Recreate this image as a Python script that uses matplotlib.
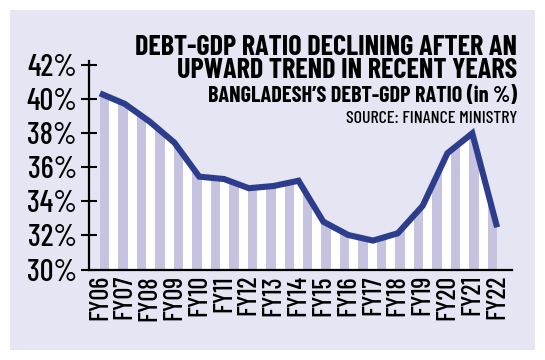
import numpy as np
import matplotlib
matplotlib.use("Agg")
import matplotlib.pyplot as plt
from matplotlib.patches import Polygon, Rectangle

years = ["FY06", "FY07", "FY08", "FY09", "FY10", "FY11", "FY12", "FY13", "FY14",
         "FY15", "FY16", "FY17", "FY18", "FY19", "FY20", "FY21", "FY22"]
ratio = [40.36, 39.74, 38.7, 37.46, 35.46, 35.32, 34.78, 34.91, 35.22,
         32.81, 32.03, 31.7, 32.13, 33.74, 36.84, 38.01, 32.48]
yticks = [30, 32, 34, 36, 38, 40, 42]
ytick_labels = ["30%", "32%", "34%", "36%", "38%", "40%", "42%"]

panel_col = "#e6e5f3"
stripe_col = "#c6c3e1"
line_col = "#2b3d8c"
narrow = ["Barlow Condensed", "DejaVu Sans"]

fig = plt.figure(figsize=(5.45, 3.6), dpi=100)
fig.patch.set_facecolor("white")
fig.patches.append(Rectangle((10/545, 10/360), 525/545, 340/360,
                             transform=fig.transFigure, facecolor=panel_col,
                             edgecolor="none", zorder=-10))

ax = fig.add_axes([89/545, 90.5/360, 423/545, 208.5/360])
ax.set_facecolor("none")
x = np.arange(len(years))

# white area under the line, striped
verts = [(x[0], 30)] + list(zip(x, ratio)) + [(x[-1], 30)]
area = Polygon(verts, closed=True, facecolor="white", edgecolor="none",
               transform=ax.transData, zorder=1)
ax.add_patch(area)
w = 0.38
lefts = np.linspace(x[0], x[-1] - w, 22)
stripes = ax.bar(lefts, 12.5, bottom=30, width=w, align="edge",
                 color=stripe_col, zorder=2)
for s in stripes:
    s.set_clip_path(area)

ax.plot(x, ratio, color=line_col, lw=4.4, solid_joinstyle="miter",
        solid_capstyle="butt", zorder=3)

ax.set_xlim(-0.44, 16.6)
ax.set_ylim(30, 42.26)
ax.set_yticks(yticks)
ax.set_yticklabels(ytick_labels, family=narrow, fontsize=22, fontweight=500)
ax.set_xticks(x)
ax.set_xticklabels(years, rotation=90, family=narrow, fontsize=19, fontweight=500)
ax.tick_params(axis="y", direction="inout", length=11.5, width=1.5, pad=3)
ax.tick_params(axis="x", length=0, pad=4)
for side in ["top", "right"]:
    ax.spines[side].set_visible(False)
for side in ["left", "bottom"]:
    ax.spines[side].set_linewidth(1.6)

fig.text(517/545, 1 - 35/360, "DEBT-GDP RATIO DECLINING AFTER AN",
         ha="right", va="top", fontsize=20.3, fontweight="bold", family=narrow)
fig.text(517/545, 1 - 58/360, "UPWARD TREND IN RECENT YEARS",
         ha="right", va="top", fontsize=20.3, fontweight="bold", family=narrow)
fig.text(517/545, 1 - 86/360, "BANGLADESH\u2019S DEBT-GDP RATIO (in %)",
         ha="right", va="top", fontsize=16, fontweight="bold", family=narrow)
fig.text(517/545, 1 - 111/360, "SOURCE: FINANCE MINISTRY",
         ha="right", va="top", fontsize=13, fontweight=500, family=narrow)

fig.savefig("out.png", dpi=100)
